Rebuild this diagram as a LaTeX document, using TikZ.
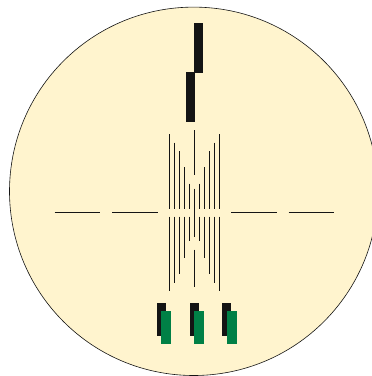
\documentclass[tikz,border=0pt]{standalone}
\usepackage{xcolor}
\definecolor{colorDisc}{HTML}{FFF4CE}
\definecolor{colorBar}{HTML}{141414}
\definecolor{colorGreen}{HTML}{008046}
\tikzset{
  disc/.style={draw=colorBar, fill=colorDisc, line width=0.6pt},
  wire/.style={draw=colorBar, line width=0.9pt},
  bar/.style={fill=colorBar},
  greenbar/.style={fill=colorGreen}
}

\begin{document}
\begin{tikzpicture}[x=1pt, y=-1pt]
\useasboundingbox (0,0) rectangle (372,376);
\clip (0,0) rectangle (372,376);
\path[disc] (193.7,191.3) circle [radius=184.2];
% top bars
\path[bar] (194,23) rectangle (203,73);
\path[bar] (186,72) rectangle (195,122);
% horizontal wires
\foreach \xa/\xb in {54.5/100, 112/157.5, 231/276.5, 288.5/334}
  \draw[wire] (\xa,212.3) -- (\xb,212.3);
% vertical wires, pairs around the middle
\foreach \xl/\xr/\ya/\yb in {169.5/219.5/134/291, 174.5/214.5/142.5/282.5, 179.5/209.5/151/274, 184.5/204.5/167/258, 189.5/199.5/183.5/241} {
  \draw[wire] (\xl,\ya) -- (\xl,208.5);
  \draw[wire] (\xl,216.5) -- (\xl,\yb);
  \draw[wire] (\xr,\ya) -- (\xr,208.5);
  \draw[wire] (\xr,216.5) -- (\xr,\yb);
}
\draw[wire] (194.5,130) -- (194.5,175);
\draw[wire] (194.5,188.5) -- (194.5,237);
\draw[wire] (194.5,249.5) -- (194.5,287);
% bottom bars
\foreach \xa/\xb in {157/161, 190/194, 222/227} {
  \path[bar] (\xa,303) rectangle ++(9,33);
  \path[greenbar] (\xb,311) rectangle ++(10,33);
}
\end{tikzpicture}
\end{document}
